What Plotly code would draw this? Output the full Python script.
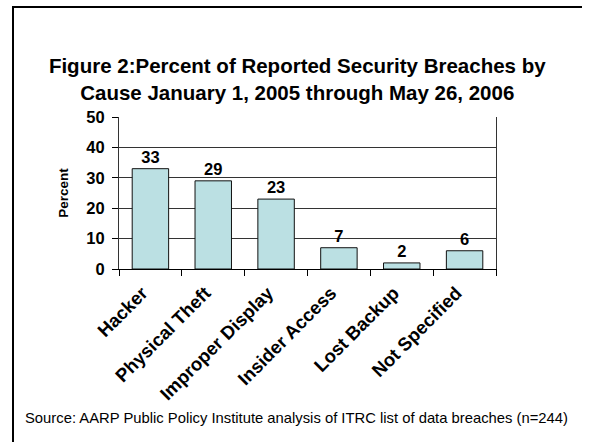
import plotly.graph_objects as go

# Breach causes and their share of reported incidents
causes = ["Hacker", "Physical Theft", "Improper Display", "Insider Access", "Lost Backup", "Not Specified"]
percent = [33, 29, 23, 7, 2, 6]
y_ticks = [0, 10, 20, 30, 40, 50]

FONT = "Liberation Sans, Arial, sans-serif"
W, H = 591, 442
PL, PR, PT, PB = 119, 496, 117, 269  # plot area in pixels


def px_x(x):
    return (x - PL) / (PR - PL)


def px_y(y):
    return (PB - y) / (PB - PT)


fig = go.Figure(
    go.Bar(
        x=causes,
        y=percent,
        text=[str(v) for v in percent],
        textposition="outside",
        textfont=dict(family=FONT, size=16.5, color="black", weight="bold"),
        cliponaxis=False,
        marker=dict(color="#BBE0E3", line=dict(color="#111111", width=1)),
    )
)

fig.update_layout(
    width=W,
    height=H,
    margin=dict(l=PL, r=W - PR, t=PT, b=H - PB),
    paper_bgcolor="white",
    plot_bgcolor="white",
    bargap=0.42,
    showlegend=False,
    font=dict(family=FONT, color="black"),
    title=dict(
        text="Figure 2:Percent of Reported Security Breaches by<br>Cause January 1, 2005 through May 26, 2006",
        x=0.503,
        xanchor="center",
        y=1 - 73 / H,
        yanchor="middle",
        font=dict(family=FONT, size=20.5, color="black", weight="bold"),
    ),
    xaxis=dict(
        showline=True,
        linecolor="black",
        linewidth=1,
        ticks="outside",
        tickson="boundaries",
        ticklen=6,
        tickcolor="black",
        tickangle=-45,
        ticklabelshift=-8,
        ticklabelstandoff=5,
        tickfont=dict(family=FONT, size=18.5, color="black", weight="bold"),
        showgrid=False,
    ),
    yaxis=dict(
        range=[0, 50],
        tickvals=y_ticks,
        showline=True,
        mirror=True,
        linecolor="#333333",
        linewidth=1,
        ticks="outside",
        ticklen=6,
        tickcolor="black",
        ticklabelstandoff=4,
        tickfont=dict(family=FONT, size=16.5, color="black", weight="bold"),
        showgrid=True,
        gridcolor="#333333",
        gridwidth=1,
        zeroline=False,
        title=dict(
            text="Percent",
            font=dict(family=FONT, size=13.5, color="black", weight="bold"),
            standoff=14,
        ),
    ),
    annotations=[
        dict(
            text="Source: AARP Public Policy Institute analysis of ITRC list of data breaches (n=244)",
            xref="paper",
            yref="paper",
            x=px_x(296),
            y=px_y(418),
            xanchor="center",
            yanchor="middle",
            showarrow=False,
            font=dict(family=FONT, size=14.8, color="black"),
        )
    ],
    shapes=[
        # frame: left edge and top edge
        dict(type="line", xref="paper", yref="paper",
             x0=px_x(13), y0=px_y(H + 5), x1=px_x(13), y1=px_y(7),
             line=dict(color="black", width=2)),
        dict(type="line", xref="paper", yref="paper",
             x0=px_x(12), y0=px_y(7), x1=px_x(582), y1=px_y(7),
             line=dict(color="black", width=2)),
    ],
)

fig.write_html("out.html")
